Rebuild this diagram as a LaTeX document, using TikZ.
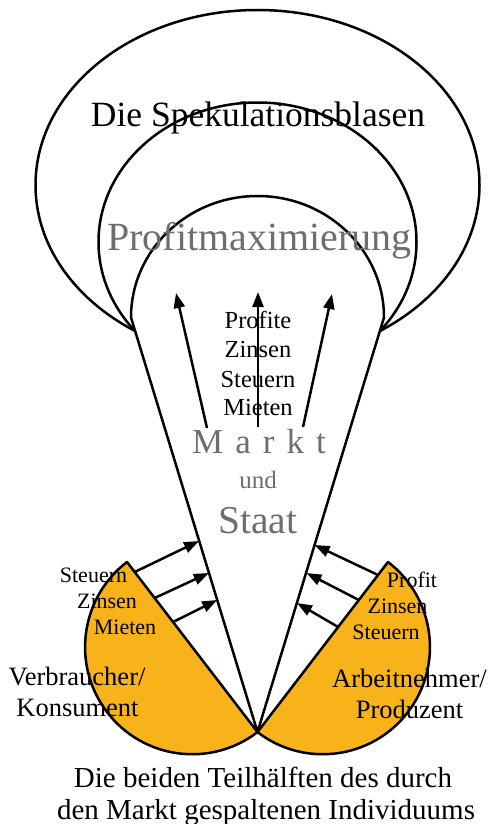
\documentclass[tikz,border=0pt]{standalone}
\usepackage{fontspec}
\setmainfont{Liberation Serif}
\usetikzlibrary{arrows.meta}
\definecolor{halforange}{RGB}{248,178,26}
\definecolor{labelgrey}{RGB}{110,110,110}

\begin{document}
\begin{tikzpicture}[
    x=1pt, y=-1pt,
    outline/.style={draw, line width=2.5pt, line join=round},
    half/.style={draw, line width=2.5pt, line join=round, fill=halforange},
    flow/.style={line width=2.5pt, -{Triangle[length=15pt, width=11pt]}},
    lbl/.style={inner sep=0pt, anchor=base},
    greytext/.style={lbl, text=labelgrey}
]
\useasboundingbox (0,0) rectangle (490,824);
\coordinate (apex) at (257.5,732);
\coordinate (coneL) at (131,317.5);
\coordinate (coneR) at (384,317.5);
\coordinate (chordL) at (127,562);
\coordinate (chordR) at (388,562);
% bubbles
\draw[outline] (257.5,185) ellipse [x radius=222, y radius=175];
\draw[outline] (257.5,242) ellipse [x radius=159, y radius=139.5];
\draw[outline, fill=white] (apex) -- (coneL) arc[start angle=180, end angle=360, x radius=126.5, y radius=121.5] -- cycle;
% the two halves
\draw[half] (chordL) arc[start angle=232.5, end angle=52.5, radius=107.2] -- cycle;
\draw[half] (chordR) arc[start angle=307.5, end angle=487.5, radius=107.2] -- cycle;
% flows
\coordinate (sL1) at (134.7,572);
\coordinate (tL1) at (199,541);
\coordinate (sL2) at (154.6,598);
\coordinate (tL2) at (208.8,573);
\coordinate (sL3) at (173,622);
\coordinate (tL3) at (217.2,600);
\coordinate (sR1) at (378,575);
\coordinate (tR1) at (314.6,545);
\coordinate (sR2) at (358.8,600);
\coordinate (tR2) at (306.5,573);
\coordinate (sR3) at (338.1,627);
\coordinate (tR3) at (297,603);
\coordinate (uL) at (207,428);
\coordinate (uLt) at (176,293);
\coordinate (uM) at (258,427);
\coordinate (uMt) at (258,292);
\coordinate (uR) at (303,427);
\coordinate (uRt) at (332,294);
\draw[flow] (sL1) -- (tL1);
\draw[flow] (sL2) -- (tL2);
\draw[flow] (sL3) -- (tL3);
\draw[flow] (sR1) -- (tR1);
\draw[flow] (sR2) -- (tR2);
\draw[flow] (sR3) -- (tR3);
\draw[flow] (uL) -- (uLt);
\draw[flow] (uM) -- (uMt);
\draw[flow] (uR) -- (uRt);
% labels
\node[lbl, font=\fontsize{35.5}{40}\selectfont] (spec) at (258,127) {Die Spekulationsblasen};
\node[greytext, font=\fontsize{40}{45}\selectfont] (profmax) at (259.5,250.5) {Profitmaximierung};
\node[lbl, font=\fontsize{24.5}{29}\selectfont] (flowP) at (258,328) {Profite};
\node[lbl, font=\fontsize{24.5}{29}\selectfont] (flowZ) at (258,357) {Zinsen};
\node[lbl, font=\fontsize{24.5}{29}\selectfont] (flowS) at (258,387) {Steuern};
\node[lbl, font=\fontsize{24.5}{29}\selectfont] (flowM) at (258,415) {Mieten};
\node[greytext, font=\fontsize{35}{40}\selectfont] (markt) at (259,453) {M\hspace{12pt}a\hspace{12pt}r\hspace{12pt}k\hspace{12pt}t};
\node[greytext, font=\fontsize{25}{30}\selectfont] (und) at (258,488) {und};
\node[greytext, font=\fontsize{39.5}{44}\selectfont] (staat) at (258,533) {Staat};
\node[lbl, font=\fontsize{22}{26}\selectfont] (taxL) at (93.5,582) {Steuern};
\node[lbl, font=\fontsize{22}{26}\selectfont] (intL) at (107,608) {Zinsen};
\node[lbl, font=\fontsize{22}{26}\selectfont] (rentL) at (125,634) {Mieten};
\node[lbl, font=\fontsize{26.5}{31}\selectfont] (consA) at (77,685) {Verbraucher/};
\node[lbl, font=\fontsize{26.5}{31}\selectfont] (consB) at (77.5,716) {Konsument};
\node[lbl, font=\fontsize{22}{26}\selectfont] (profR) at (412,587) {Profit};
\node[lbl, font=\fontsize{22}{26}\selectfont] (intR) at (397.5,613) {Zinsen};
\node[lbl, font=\fontsize{22}{26}\selectfont] (taxR) at (386,639) {Steuern};
\node[lbl, font=\fontsize{26.5}{31}\selectfont] (workA) at (409.5,687) {Arbeitnehmer/};
\node[lbl, font=\fontsize{26.5}{31}\selectfont] (workB) at (409.5,718) {Produzent};
\node[lbl, font=\fontsize{29}{34}\selectfont] (capA) at (263,787) {Die beiden Teilhälften des durch};
\node[lbl, font=\fontsize{29}{34}\selectfont] (capB) at (266,819) {den Markt gespaltenen Individuums};
\end{tikzpicture}
\end{document}
